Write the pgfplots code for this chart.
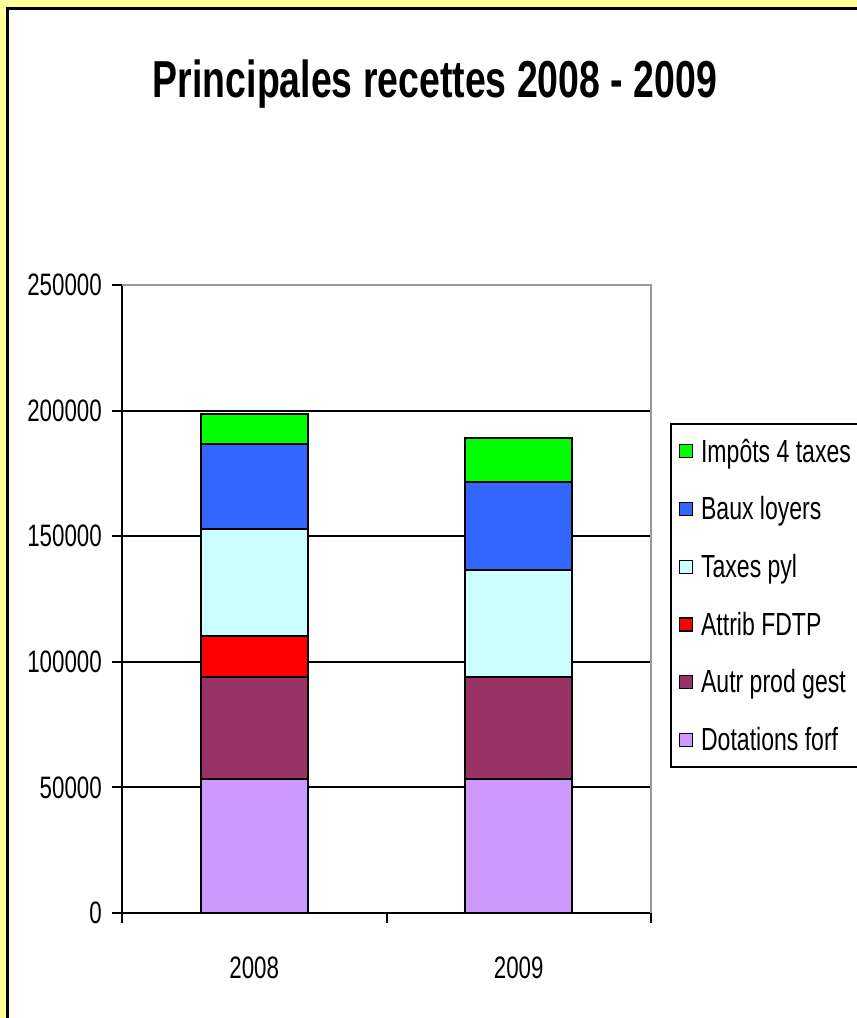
\documentclass[border=0pt]{standalone}
\usepackage{fontspec}
\setmainfont{Liberation Sans}[FakeStretch=0.72]
\usepackage{pgfplots}
\pgfplotsset{compat=1.18}
\definecolor{bgyellow}{HTML}{FFFF99}
\definecolor{cLav}{HTML}{CC99FF}
\definecolor{cPlum}{HTML}{993366}
\definecolor{cRed}{HTML}{FF0000}
\definecolor{cCyan}{HTML}{CCFFFF}
\definecolor{cBlue}{HTML}{3366FF}
\definecolor{cGreen}{HTML}{00FF00}
\pgfplotsset{myleg/.style={legend image code/.code={\draw[##1,draw=black,line width=1.3pt] (0pt,-6.5pt) rectangle (13pt,6.5pt);}}}
\begin{document}
\begin{tikzpicture}[x=1pt,y=1pt]
\useasboundingbox (0,0) rectangle (857,1018);
\fill[bgyellow] (0,0) rectangle (857,1018);
\begin{scope}
\clip (0,0) rectangle (857,1018);
\filldraw[fill=white, draw=black, line width=3pt] (7,-20) rectangle (880,1009);
\end{scope}
\node[font=\bfseries\fontsize{52}{60}\selectfont, anchor=base] at (435,920) {Principales recettes 2008 - 2009};
\begin{axis}[
  at={(122pt,105pt)}, anchor=south west,
  scale only axis, width=529pt, height=628pt,
  ybar stacked, bar width=107pt,
  xmin=-0.5, xmax=1.5, ymin=0, ymax=250000,
  axis line style={draw=none},
  xtick pos=bottom, ytick pos=left,
  xtick={-0.5,0.5,1.5}, xticklabels={},
  extra x ticks={0,1}, extra x tick labels={2008,2009},
  extra x tick style={major tick length=0pt},
  ytick={0,50000,100000,150000,200000,250000},
  yticklabels={0,50000,100000,150000,200000,250000},
  scaled y ticks=false,
  tick align=outside, major tick length=10pt,
  tick style={black, line width=2pt},
  ymajorgrids, grid style={black, line width=2pt},
  yticklabel style={font=\fontsize{31}{36}\selectfont, inner sep=0pt, anchor=east, xshift=-10pt},
  xticklabel style={font=\fontsize{31}{36}\selectfont, inner sep=0pt, anchor=north, yshift=-44pt},
  legend style={at={(1.036,0.78)}, anchor=north west, draw=black, line width=1.5pt, fill=white,
    font=\fontsize{32}{38}\selectfont, row sep=29pt, inner xsep=8pt, inner ysep=13pt,
    /tikz/every odd column/.append style={column sep=6pt}},
  legend cell align=left,
  reverse legend,
  clip=false,
]
\addplot[fill=cLav, draw=black, line width=2pt, myleg] coordinates {(0,53300) (1,53300)};
\addplot[fill=cPlum, draw=black, line width=2pt, myleg] coordinates {(0,40700) (1,40500)};
\addplot[fill=cRed, draw=black, line width=2pt, myleg] coordinates {(0,16300) (1,0)};
\addplot[fill=cCyan, draw=black, line width=2pt, myleg] coordinates {(0,42600) (1,42700)};
\addplot[fill=cBlue, draw=black, line width=2pt, myleg] coordinates {(0,33800) (1,34900)};
\addplot[fill=cGreen, draw=black, line width=2pt, myleg] coordinates {(0,11900) (1,17500)};
\legend{Dotations forf, Autr prod gest, Attrib FDTP, Taxes pyl, Baux loyers, Impôts 4 taxes}
\draw[gray!80, line width=1.5pt] (rel axis cs:0,1) -- (rel axis cs:1,1) -- (rel axis cs:1,0);
\draw[black, line width=2pt] (rel axis cs:0,1) -- (rel axis cs:0,0) -- (rel axis cs:1,0);
\end{axis}
\end{tikzpicture}
\end{document}
